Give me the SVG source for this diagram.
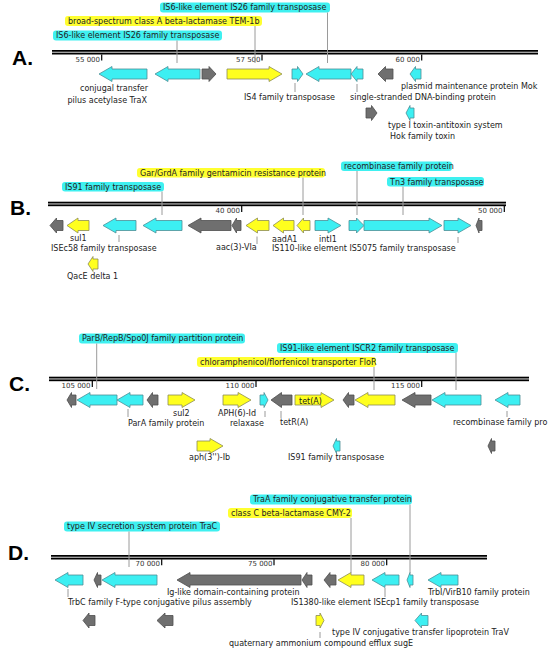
<svg xmlns="http://www.w3.org/2000/svg" width="550" height="652" viewBox="0 0 550 652">
<style>
.cy{fill:#3CEFF2;stroke:#4C8E96;stroke-width:0.8}
.ye{fill:#FFFF1E;stroke:#8C8C55;stroke-width:0.8}
.gr{fill:#6F6F6F;stroke:#4E4E4E;stroke-width:0.8}
text{font-family:"DejaVu Sans",Verdana,sans-serif;font-size:8px;fill:#222}
.tk{font-size:7px;fill:#333}
.big{font-family:"Liberation Sans",Arial,sans-serif;font-weight:bold;font-size:21px;fill:#000}
.hc{fill:#3FF0F0}
.hy{fill:#FFFF30}
.ldr{stroke:#9A9A9A;stroke-width:1;fill:none}
.tick{stroke:#000;stroke-width:1.2}
.ax{fill:#000}
.axm{fill:#C8C8C8}
</style>
<rect width="550" height="652" fill="#fff"/>

<!-- ===== Panel A ===== -->
<g id="panelA">
<text class="big" x="12" y="65">A.</text>
<g id="axisA">
<rect class="ax" x="52" y="50" width="486" height="4.5"/>
<rect class="axm" x="52" y="51.7" width="486" height="1.1"/>
<line class="tick" x1="101.7" y1="54.5" x2="101.7" y2="60.5"/>
<line class="tick" x1="262" y1="54.5" x2="262" y2="60.5"/>
<line class="tick" x1="421.7" y1="54.5" x2="421.7" y2="60.5"/>
<text class="tk" x="100" y="61.5" text-anchor="end">55 000</text>
<text class="tk" x="260.5" y="61.5" text-anchor="end">57 500</text>
<text class="tk" x="420" y="61.5" text-anchor="end">60 000</text>
</g>
<g id="A_lbl1"><rect class="hc" x="160" y="2.5" width="170" height="10" rx="3"/><text x="163" y="10.3">IS6-like element IS26 family transposase</text></g>
<g id="A_lbl2"><rect class="hy" x="65" y="16" width="197" height="10" rx="3"/><text x="68" y="23.8">broad-spectrum class A beta-lactamase TEM-1b</text></g>
<g id="A_lbl3"><rect class="hc" x="53" y="30.5" width="169" height="10" rx="3"/><text x="56" y="38.3">IS6-like element IS26 family transposase</text></g>
<g id="A_traX"><polygon class="cy" transform="translate(0,74)" points="99,0 112,-7.5 112,-5 147,-5 147,5 112,5 112,7.5"/><text x="148" y="91" text-anchor="end">conjugal transfer</text><text x="147" y="103" text-anchor="end">pilus acetylase TraX</text></g>
<g id="A_is26a"><polygon class="cy" transform="translate(0,74)" points="155,0 168,-7.5 168,-5 200,-5 200,5 168,5 168,7.5"/></g>
<g id="A_g1"><polygon class="gr" transform="translate(0,74)" points="202,-5 209,-5 209,-7.5 216,0 209,7.5 209,5 202,5"/></g>
<g id="A_tem"><polygon class="ye" transform="translate(0,74)" points="227,-5 269,-5 269,-7.5 282,0 269,7.5 269,5 227,5"/></g>
<g id="A_is4"><polygon class="cy" transform="translate(0,74)" points="292,-5 297.5,-5 297.5,-7.5 303,0 297.5,7.5 297.5,5 292,5"/><text x="244" y="100">IS4 family transposase</text></g>
<g id="A_is26b"><polygon class="cy" transform="translate(0,74)" points="306,0 319,-7.5 319,-5 351,-5 351,5 319,5 319,7.5"/></g>
<g id="A_ssb"><polygon class="cy" transform="translate(0,74)" points="351,0 357,-7.5 357,-5 363,-5 363,5 357,5 357,7.5"/><text x="350" y="100">single-stranded DNA-binding protein</text></g>
<g id="A_g2"><polygon class="gr" transform="translate(0,74)" points="378,0 385.5,-7.5 385.5,-5 393,-5 393,5 385.5,5 385.5,7.5"/></g>
<g id="A_mok"><polygon class="cy" transform="translate(0,74)" points="410,0 415.5,-7.5 415.5,-5 421,-5 421,5 415.5,5 415.5,7.5"/><text x="401" y="89">plasmid maintenance protein Mok</text></g>
<g id="A_g3"><polygon class="gr" transform="translate(0,113)" points="366,-5 371.5,-5 371.5,-7.5 377,0 371.5,7.5 371.5,5 366,5"/></g>
<g id="A_hok"><polygon class="cy" transform="translate(0,113)" points="406,0 410,-7.5 410,-5 414,-5 414,5 410,5 410,7.5"/><text x="388" y="127.5">type I toxin-antitoxin system</text><text x="390" y="139">Hok family toxin</text></g>
</g>

<!-- ===== Panel B ===== -->
<g id="panelB">
<text class="big" x="10" y="215">B.</text>
<g id="axisB">
<rect class="ax" x="48" y="201.7" width="458" height="4.5"/>
<rect class="axm" x="48" y="203.4" width="458" height="1.1"/>
<line class="tick" x1="241.7" y1="206" x2="241.7" y2="212"/>
<line class="tick" x1="504.3" y1="206" x2="504.3" y2="212"/>
<text class="tk" x="240" y="213" text-anchor="end">40 000</text>
<text class="tk" x="502.5" y="213" text-anchor="end">50 000</text>
</g>
<g id="B_lbl1"><rect class="hc" x="341" y="161.5" width="111" height="9.5" rx="3"/><text x="344" y="169">recombinase family protein</text></g>
<g id="B_lbl2"><rect class="hy" x="137" y="168" width="188" height="9.5" rx="3"/><text x="140" y="175.5">Gar/GrdA family gentamicin resistance protein</text></g>
<g id="B_lbl3"><rect class="hc" x="387" y="177" width="97" height="9.5" rx="3"/><text x="390" y="184.5">Tn3 family transposase</text></g>
<g id="B_lbl4"><rect class="hc" x="62" y="182" width="102" height="9.5" rx="3"/><text x="65" y="189.5">IS91 family transposase</text></g>
<g id="B_g1"><polygon class="gr" transform="translate(0,225.5)" points="50,0 56.5,-7.5 56.5,-5 63,-5 63,5 56.5,5 56.5,7.5"/></g>
<g id="B_sul1"><polygon class="ye" transform="translate(0,225.5)" points="67,0 78,-7.5 78,-5 89,-5 89,5 78,5 78,7.5"/><text x="70" y="241">sul1</text></g>
<g id="B_isec58"><polygon class="cy" transform="translate(0,225.5)" points="103,0 116,-7.5 116,-5 136,-5 136,5 116,5 116,7.5"/><text x="51" y="251">ISEc58 family transposase</text></g>
<g id="B_is91"><polygon class="cy" transform="translate(0,225.5)" points="143,0 156,-7.5 156,-5 182,-5 182,5 156,5 156,7.5"/></g>
<g id="B_g2"><polygon class="gr" transform="translate(0,225.5)" points="188,0 201,-7.5 201,-5 231,-5 231,5 201,5 201,7.5"/></g>
<g id="B_g3"><polygon class="gr" transform="translate(0,225.5)" points="232,0 236.5,-7.5 236.5,-5 241,-5 241,5 236.5,5 236.5,7.5"/></g>
<g id="B_aac"><polygon class="ye" transform="translate(0,225.5)" points="246,0 257.5,-7.5 257.5,-5 269,-5 269,5 257.5,5 257.5,7.5"/><text x="216" y="250">aac(3)-VIa</text></g>
<g id="B_aada1"><polygon class="ye" transform="translate(0,225.5)" points="273,0 283.5,-7.5 283.5,-5 294,-5 294,5 283.5,5 283.5,7.5"/><text x="272" y="241.5">aadA1</text></g>
<g id="B_gar"><polygon class="ye" transform="translate(0,225.5)" points="297,0 303.5,-7.5 303.5,-5 310,-5 310,5 303.5,5 303.5,7.5"/></g>
<g id="B_intI1"><polygon class="cy" transform="translate(0,225.5)" points="315,-5 328,-5 328,-7.5 341,0 328,7.5 328,5 315,5"/><text x="319" y="241.5">intI1</text></g>
<g id="B_rec"><polygon class="cy" transform="translate(0,225.5)" points="349,-5 356.5,-5 356.5,-7.5 364,0 356.5,7.5 356.5,5 349,5"/></g>
<g id="B_tn3"><polygon class="cy" transform="translate(0,225.5)" points="364,-5 429,-5 429,-7.5 442,0 429,7.5 429,5 364,5"/></g>
<g id="B_is5075"><polygon class="cy" transform="translate(0,225.5)" points="444,-5 458,-5 458,-7.5 471,0 458,7.5 458,5 444,5"/><text x="272" y="251">IS110-like element IS5075 family transposase</text></g>
<g id="B_g4"><polygon class="gr" transform="translate(0,225.5)" points="476,0 479,-7.5 479,-5 482,-5 482,5 479,5 479,7.5"/></g>
<g id="B_qace"><polygon class="ye" transform="translate(0,264)" points="88,0 93,-7.5 93,-5 98,-5 98,5 93,5 93,7.5"/><text x="67" y="279">QacE delta 1</text></g>
</g>

<!-- ===== Panel C ===== -->
<g id="panelC">
<text class="big" x="9" y="391">C.</text>
<g id="axisC">
<rect class="ax" x="49" y="376.7" width="480" height="4.5"/>
<rect class="axm" x="49" y="378.4" width="480" height="1.1"/>
<line class="tick" x1="92.3" y1="381" x2="92.3" y2="387"/>
<line class="tick" x1="256" y1="381" x2="256" y2="387"/>
<line class="tick" x1="421.7" y1="381" x2="421.7" y2="387"/>
<text class="tk" x="90.5" y="388" text-anchor="end">105 000</text>
<text class="tk" x="254.5" y="388" text-anchor="end">110 000</text>
<text class="tk" x="420" y="388" text-anchor="end">115 000</text>
</g>
<g id="C_lbl1"><rect class="hc" x="79" y="333.5" width="166" height="10" rx="3"/><text x="82" y="341.3">ParB/RepB/Spo0J family partition protein</text></g>
<g id="C_lbl2"><rect class="hc" x="277" y="343" width="181" height="10" rx="3"/><text x="280" y="350.8">IS91-like element ISCR2 family transposase</text></g>
<g id="C_lbl3"><rect class="hy" x="197" y="357" width="179" height="10" rx="3"/><text x="200" y="364.8">chloramphenicol/florfenicol transporter FloR</text></g>
<g id="C_g1"><polygon class="gr" transform="translate(0,400)" points="67,0 71.5,-7.5 71.5,-5 76,-5 76,5 71.5,5 71.5,7.5"/></g>
<g id="C_parB"><polygon class="cy" transform="translate(0,400)" points="77,0 90,-7.5 90,-5 117,-5 117,5 90,5 90,7.5"/></g>
<g id="C_parA"><polygon class="cy" transform="translate(0,400)" points="117,0 130,-7.5 130,-5 143,-5 143,5 130,5 130,7.5"/><text x="128" y="425.5">ParA family protein</text></g>
<g id="C_g2"><polygon class="gr" transform="translate(0,400)" points="147,0 152.5,-7.5 152.5,-5 158,-5 158,5 152.5,5 152.5,7.5"/></g>
<g id="C_sul2"><polygon class="ye" transform="translate(0,400)" points="168,-5 182,-5 182,-7.5 195,0 182,7.5 182,5 168,5"/><text x="173" y="416">sul2</text></g>
<g id="C_aph6"><polygon class="ye" transform="translate(0,400)" points="223,-5 238,-5 238,-7.5 251,0 238,7.5 238,5 223,5"/><text x="218" y="415.5">APH(6)-Id</text></g>
<g id="C_relax"><polygon class="cy" transform="translate(0,400)" points="260,-5 264,-5 264,-7.5 268,0 264,7.5 264,5 260,5"/><text x="230" y="425.5">relaxase</text></g>
<g id="C_tetR"><polygon class="gr" transform="translate(0,400)" points="271,0 281.5,-7.5 281.5,-5 292,-5 292,5 281.5,5 281.5,7.5"/><text x="280" y="425">tetR(A)</text></g>
<g id="C_tetA"><polygon class="ye" transform="translate(0,400)" points="295,-5 321,-5 321,-7.5 334,0 321,7.5 321,5 295,5"/><text x="299" y="403.5">tet(A)</text></g>
<g id="C_g3"><polygon class="gr" transform="translate(0,400)" points="343,0 348.5,-7.5 348.5,-5 354,-5 354,5 348.5,5 348.5,7.5"/></g>
<g id="C_floR"><polygon class="ye" transform="translate(0,400)" points="355,0 368,-7.5 368,-5 395,-5 395,5 368,5 368,7.5"/></g>
<g id="C_g4"><polygon class="gr" transform="translate(0,400)" points="402,0 415,-7.5 415,-5 431,-5 431,5 415,5 415,7.5"/></g>
<g id="C_iscr2"><polygon class="cy" transform="translate(0,400)" points="432,0 445,-7.5 445,-5 481,-5 481,5 445,5 445,7.5"/></g>
<g id="C_rec"><polygon class="cy" transform="translate(0,400)" points="495,0 508,-7.5 508,-5 520,-5 520,5 508,5 508,7.5"/><text x="453" y="425">recombinase family pro</text></g>
<g id="C_aph3"><polygon class="ye" transform="translate(0,446)" points="197,-5 210,-5 210,-7.5 223,0 210,7.5 210,5 197,5"/><text x="189" y="460">aph(3'')-Ib</text></g>
<g id="C_is91"><polygon class="cy" transform="translate(0,446)" points="333,0 336.5,-7.5 336.5,-5 340,-5 340,5 336.5,5 336.5,7.5"/><text x="288" y="460">IS91 family transposase</text></g>
<g id="C_g5"><polygon class="gr" transform="translate(0,446)" points="488,0 491.5,-7.5 491.5,-5 495,-5 495,5 491.5,5 491.5,7.5"/></g>
</g>

<!-- ===== Panel D ===== -->
<g id="panelD">
<text class="big" x="8" y="560">D.</text>
<g id="axisD">
<rect class="ax" x="51" y="555" width="436" height="4.5"/>
<rect class="axm" x="51" y="556.7" width="436" height="1.1"/>
<line class="tick" x1="161.7" y1="559.3" x2="161.7" y2="565.3"/>
<line class="tick" x1="274" y1="559.3" x2="274" y2="565.3"/>
<line class="tick" x1="386.7" y1="559.3" x2="386.7" y2="565.3"/>
<text class="tk" x="160" y="566" text-anchor="end">70 000</text>
<text class="tk" x="272.5" y="566" text-anchor="end">75 000</text>
<text class="tk" x="385" y="566" text-anchor="end">80 000</text>
</g>
<g id="D_lbl1"><rect class="hc" x="250" y="494.5" width="162" height="10" rx="3"/><text x="253" y="502.3">TraA family conjugative transfer protein</text></g>
<g id="D_lbl2"><rect class="hy" x="228" y="508" width="124" height="10" rx="3"/><text x="231" y="515.8">class C beta-lactamase CMY-2</text></g>
<g id="D_lbl3"><rect class="hc" x="64" y="521.5" width="156" height="10" rx="3"/><text x="67" y="529.3">type IV secretion system protein TraC</text></g>
<g id="D_trbC"><polygon class="cy" transform="translate(0,580)" points="55,0 68,-7.5 68,-5 83,-5 83,5 68,5 68,7.5"/><text x="68" y="604.5">TrbC family F-type conjugative pilus assembly</text></g>
<g id="D_g1"><polygon class="gr" transform="translate(0,580)" points="94,0 97.5,-7.5 97.5,-5 101,-5 101,5 97.5,5 97.5,7.5"/></g>
<g id="D_traC"><polygon class="cy" transform="translate(0,580)" points="102,0 115,-7.5 115,-5 157,-5 157,5 115,5 115,7.5"/></g>
<g id="D_ig"><polygon class="gr" transform="translate(0,580)" points="177,0 190,-7.5 190,-5 301,-5 301,5 190,5 190,7.5"/><text x="167" y="595">Ig-like domain-containing protein</text></g>
<g id="D_g2"><polygon class="gr" transform="translate(0,580)" points="302,0 307,-7.5 307,-5 312,-5 312,5 307,5 307,7.5"/></g>
<g id="D_g3"><polygon class="gr" transform="translate(0,580)" points="324,0 330,-7.5 330,-5 336,-5 336,5 330,5 330,7.5"/></g>
<g id="D_cmy2"><polygon class="ye" transform="translate(0,580)" points="338,0 351,-7.5 351,-5 364,-5 364,5 351,5 351,7.5"/></g>
<g id="D_isecp1"><polygon class="cy" transform="translate(0,580)" points="372,0 385,-7.5 385,-5 399,-5 399,5 385,5 385,7.5"/><text x="291" y="604.5">IS1380-like element ISEcp1 family transposase</text></g>
<g id="D_traA"><polygon class="cy" transform="translate(0,580)" points="407,0 410,-7.5 410,-5 413,-5 413,5 410,5 410,7.5"/></g>
<g id="D_trbI"><polygon class="cy" transform="translate(0,580)" points="428,0 441,-7.5 441,-5 458,-5 458,5 441,5 441,7.5"/><text x="428" y="595">TrbI/VirB10 family protein</text></g>
<g id="D_g4"><polygon class="gr" transform="translate(0,620.5)" points="83,0 89,-7.5 89,-5 95,-5 95,5 89,5 89,7.5"/></g>
<g id="D_g5"><polygon class="gr" transform="translate(0,620.5)" points="157,0 165,-7.5 165,-5 173,-5 173,5 165,5 165,7.5"/></g>
<g id="D_sugE"><polygon class="ye" transform="translate(0,620.5)" points="316,-5 320,-5 320,-7.5 324,0 320,7.5 320,5 316,5"/><text x="229" y="646">quaternary ammonium compound efflux sugE</text></g>
<g id="D_traV"><polygon class="cy" transform="translate(0,620.5)" points="415,0 421.5,-7.5 421.5,-5 428,-5 428,5 421.5,5 421.5,7.5"/><text x="332" y="635">type IV conjugative transfer lipoprotein TraV</text></g>
</g>

<!-- ===== Connectors (leader lines) ===== -->
<g id="connectors" class="ldr">
<line x1="327.5" y1="12.5" x2="327.5" y2="63"/>
<line x1="255" y1="26" x2="255" y2="63"/>
<line x1="177" y1="40.5" x2="177" y2="63"/>
<line x1="295" y1="83" x2="295" y2="92"/>
<line x1="357" y1="84" x2="357" y2="92"/>
<line x1="303" y1="177.5" x2="303" y2="215"/>
<line x1="162" y1="191.5" x2="162" y2="215"/>
<line x1="357" y1="171" x2="357" y2="215"/>
<line x1="403" y1="186.5" x2="403" y2="215"/>
<line x1="119" y1="235" x2="119" y2="242"/>
<line x1="257" y1="236.5" x2="257" y2="244"/>
<line x1="458" y1="237" x2="458" y2="243"/>
<line x1="96.7" y1="343.5" x2="96.7" y2="389"/>
<line x1="456" y1="353" x2="456" y2="390"/>
<line x1="374" y1="367" x2="374" y2="390"/>
<line x1="128" y1="409" x2="128" y2="417"/>
<line x1="265" y1="411" x2="265" y2="417"/>
<line x1="281" y1="411" x2="281" y2="418"/>
<line x1="507" y1="411" x2="507" y2="417"/>
<line x1="410" y1="504.5" x2="410" y2="573"/>
<line x1="351" y1="518" x2="351" y2="573"/>
<line x1="129" y1="531.5" x2="129" y2="567"/>
<line x1="68" y1="589" x2="68" y2="597"/>
<line x1="385" y1="588" x2="385" y2="597"/>
<line x1="320" y1="632" x2="320" y2="638"/>
</g>
</svg>
